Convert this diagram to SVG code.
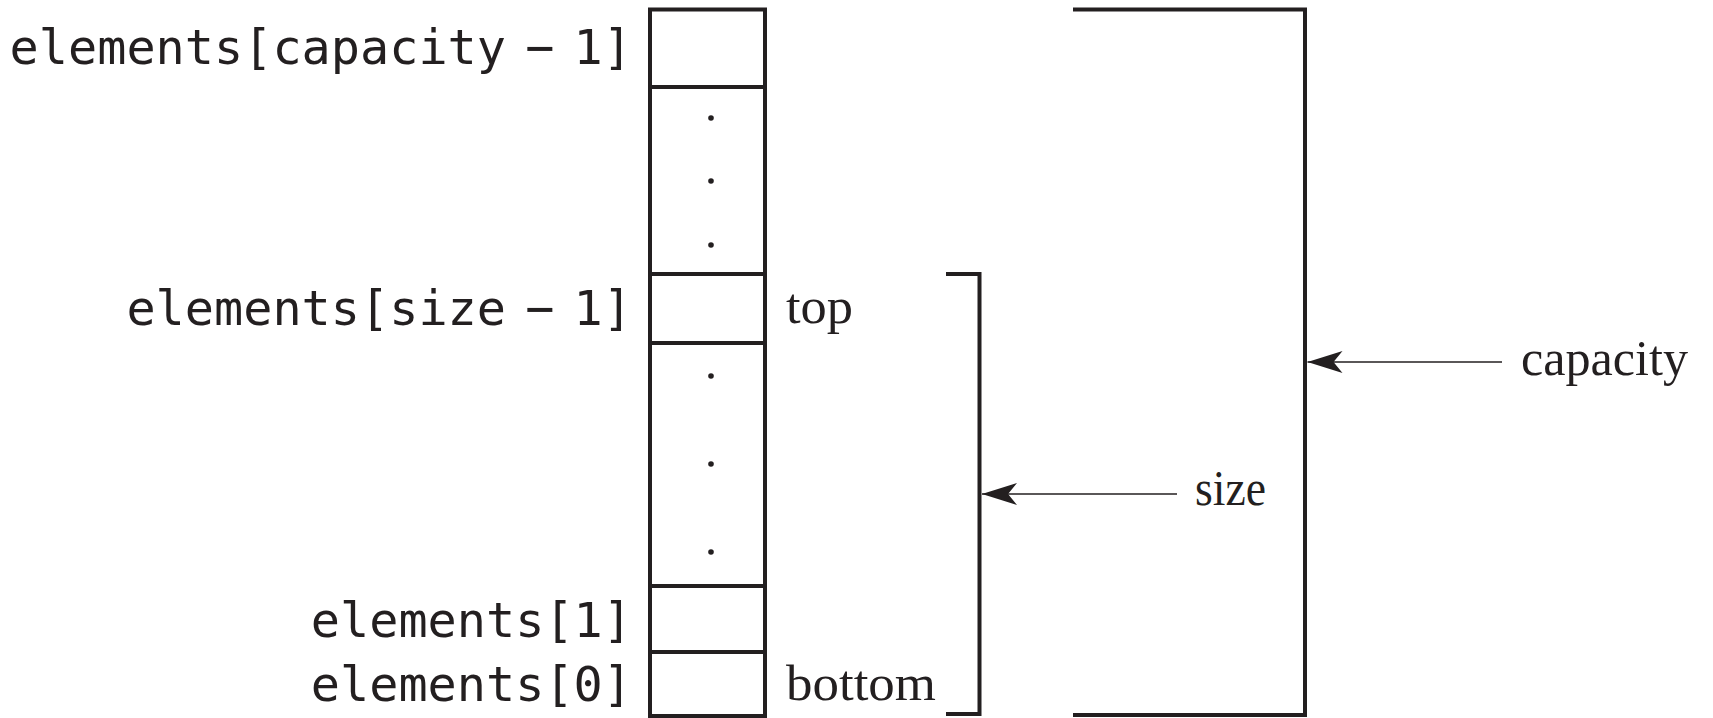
<svg xmlns="http://www.w3.org/2000/svg" width="1713" height="718" viewBox="0 0 1713 718">
<style>
.bg{fill:#ffffff}
.box{fill:none;stroke:#231f20;stroke-width:4}
.brk{fill:none;stroke:#231f20;stroke-width:4;stroke-linecap:square}
.arr{fill:none;stroke:#231f20;stroke-width:1.4}
.dot{fill:#231f20}
.mono{font-family:"DejaVu Sans Mono","Liberation Mono",monospace;font-size:48.5px;fill:#231f20;word-spacing:-10px;text-anchor:end}
.serif{font-family:"Liberation Serif","Times New Roman",serif;font-size:50px;fill:#231f20}
</style>
<defs>
<marker id="ah" markerUnits="userSpaceOnUse" markerWidth="37" markerHeight="26" viewBox="0 -13 37 26" refX="35" refY="0" orient="auto" overflow="visible">
<path d="M35,0 L0,-11 L9,0 L0,11 Z" fill="#231f20"/>
</marker>
</defs>
<rect class="bg" x="0" y="0" width="1713" height="718"/>
<g id="array">
<rect class="box" x="650" y="9.5" width="115" height="706.5"/>
<line class="box" x1="650" y1="87" x2="765" y2="87"/>
<line class="box" x1="650" y1="274" x2="765" y2="274"/>
<line class="box" x1="650" y1="343" x2="765" y2="343"/>
<line class="box" x1="650" y1="586" x2="765" y2="586"/>
<line class="box" x1="650" y1="652" x2="765" y2="652"/>
<circle class="dot" cx="711" cy="118" r="2.8"/>
<circle class="dot" cx="711" cy="181" r="2.8"/>
<circle class="dot" cx="711" cy="245" r="2.8"/>
<circle class="dot" cx="711" cy="376" r="2.8"/>
<circle class="dot" cx="711" cy="464" r="2.8"/>
<circle class="dot" cx="711" cy="552" r="2.8"/>
</g>
<g id="labels">
<text class="mono" x="632" y="64">elements[capacity − 1]</text>
<text class="mono" x="632" y="325">elements[size − 1]</text>
<text class="mono" x="632" y="637">elements[1]</text>
<text class="mono" x="632" y="701">elements[0]</text>
<text class="serif" x="786" y="323" textLength="67" lengthAdjust="spacingAndGlyphs">top</text>
<text class="serif" x="786" y="700" textLength="150" lengthAdjust="spacingAndGlyphs">bottom</text>
</g>
<g id="size">
<path class="brk" d="M948,274 H979.5 V714 H948"/>
<text class="serif" x="1195" y="505" textLength="71" lengthAdjust="spacingAndGlyphs">size</text>
</g>
<g id="capacity">
<path class="brk" d="M1075,9.5 H1305 V715 H1075"/>
<text class="serif" x="1521" y="375" textLength="167" lengthAdjust="spacingAndGlyphs">capacity</text>
</g>
<g id="connectors">
<line class="arr" x1="1177" y1="494" x2="982" y2="494" marker-end="url(#ah)"/>
<line class="arr" x1="1502" y1="362" x2="1307.5" y2="362" marker-end="url(#ah)"/>
</g>
</svg>
